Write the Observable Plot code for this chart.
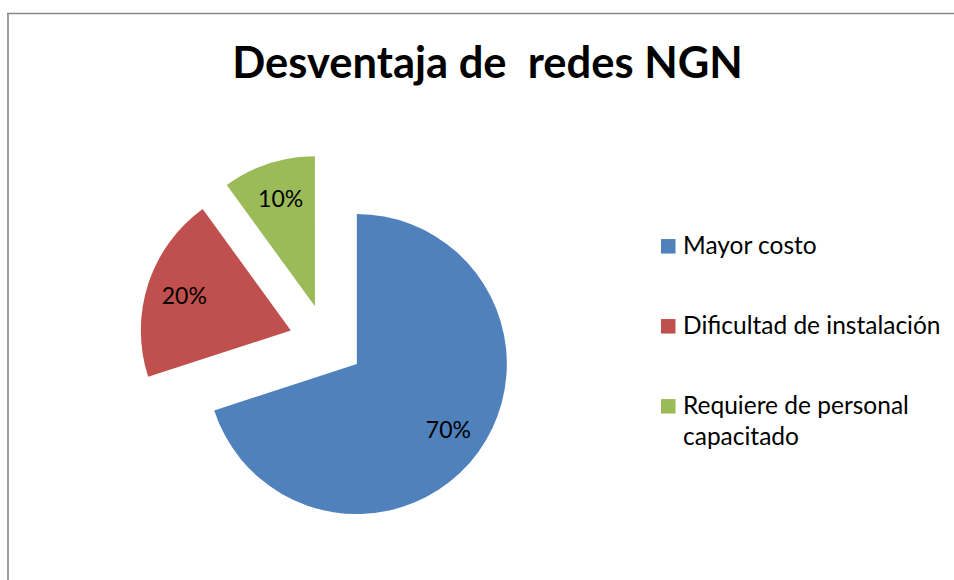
<!DOCTYPE html>
<html><head><meta charset="utf-8">
<script src="https://cdn.jsdelivr.net/npm/d3@7"></script>
<script src="https://cdn.jsdelivr.net/npm/@observablehq/plot@0.6"></script>
<style>html,body{margin:0;padding:0;background:#fff;overflow:hidden}</style>
</head><body><div id="chart"></div>
<script>
// ---- data ----
const title = "Desventaja de  redes NGN";
const categories = ["Mayor costo", "Dificultad de instalación", "Requiere de personal capacitado"];
const values = [70, 20, 10];
const sliceLabels = ["70%", "20%", "10%"];
const legendLabels = ["Mayor costo", "Dificultad de instalación", "Requiere de personal\ncapacitado"];
const colors = ["#4F81BD", "#C0504D", "#9BBB59"];

// ---- layout ----
const W = 954, H = 580;
const cx = 326.5, cy = 342, R = 150, explode = 37.5, labelFrac = 0.75;
const legendX = 661, legendSq = 14.5, legendTextX = 682.5, legendY0 = 246.3, legendStep = 80;
const FONT = "Lato, 'Open Sans', sans-serif";

const data = categories.map((c, i) => ({category: c, value: values[i], label: sliceLabels[i], legend: legendLabels[i], i}));
const arcs = d3.pie().sort(null).value(d => d.value)(data);
arcs.forEach(a => {
  const m = (a.startAngle + a.endAngle) / 2;
  a.ox = cx + explode * Math.sin(m);
  a.oy = cy - explode * Math.cos(m);
  a.lx = a.ox + labelFrac * R * Math.sin(m);
  a.ly = a.oy - labelFrac * R * Math.cos(m);
});

function pieMark(index, scales) {
  const g = d3.create("svg:g");
  const arcGen = d3.arc().innerRadius(0).outerRadius(R);
  g.selectAll("path").data(arcs).join("path")
    .attr("transform", d => `translate(${scales.x(d.ox)},${scales.y(d.oy)})`)
    .attr("d", arcGen)
    .attr("fill", d => scales.color(d.data.category));
  return g.node();
}

const chart = Plot.plot({
  width: W, height: H,
  margin: 0,
  style: {fontFamily: FONT, background: "#fff"},
  x: {type: "linear", domain: [0, W], range: [0, W], axis: null},
  y: {type: "linear", domain: [0, H], range: [0, H], axis: null},
  color: {domain: categories, range: colors},
  marks: [
    Plot.ruleY([13], {x1: 7, x2: W, stroke: "#868686", strokeWidth: 1.6}),
    Plot.ruleX([7.5], {y1: 13, y2: H, stroke: "#868686", strokeWidth: 1.6}),
    pieMark,
    Plot.text(arcs, {x: "lx", y: "ly", text: d => d.data.label, fontSize: 23, fill: "#000", fontFamily: FONT}),
    Plot.text([title], {x: () => 487, y: () => 77, text: d => d, fontSize: 43.5, fontWeight: "bold", fill: "#000", lineAnchor: "bottom", fontFamily: FONT}),
    Plot.rect(data, {
      x1: () => legendX, x2: () => legendX + legendSq,
      y1: d => legendY0 + d.i * legendStep - legendSq / 2,
      y2: d => legendY0 + d.i * legendStep + legendSq / 2,
      fill: "category"
    }),
    Plot.text(data, {
      x: () => legendTextX, y: d => legendY0 + d.i * legendStep,
      text: "legend", textAnchor: "start", lineAnchor: "top", dy: -15, lineHeight: 1.265,
      fontSize: 24.5, fill: "#000", fontFamily: FONT
    })
  ]
});
document.getElementById("chart").appendChild(chart);
</script>
</body></html>
